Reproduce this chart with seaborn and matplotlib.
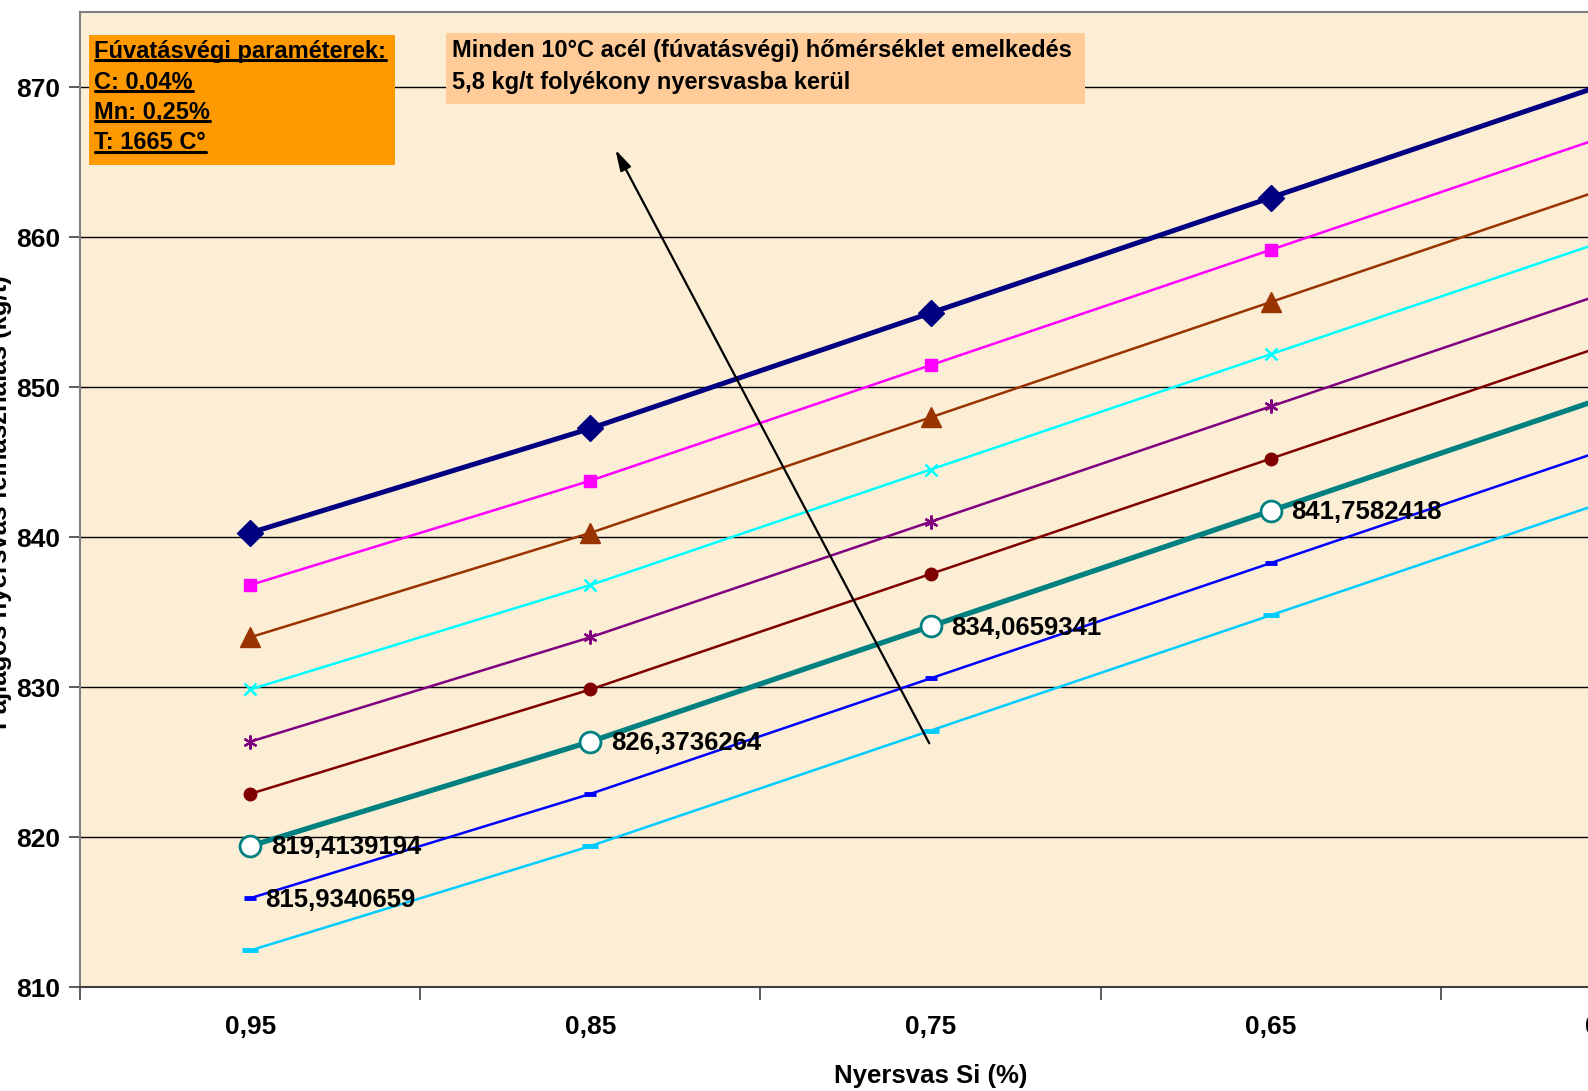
import numpy as np
import pandas as pd
import matplotlib
matplotlib.use("Agg")
import matplotlib.pyplot as plt
from matplotlib.lines import Line2D
import seaborn as sns

# Pig-iron Si categories (x axis)
si_labels = ["0,95", "0,85", "0,75", "0,65", "0,55"]

# Specific hot-metal consumption (kg/t), one line per end-of-blow temperature step
s_navy = [840.29, 847.25, 854.95, 862.64, 870.33]
s_magenta = [836.81, 843.77, 851.47, 859.16, 866.85]
s_brown = [833.33, 840.29, 847.99, 855.68, 863.37]
s_cyan = [829.85, 836.81, 844.51, 852.20, 859.89]
s_purple = [826.37, 833.33, 841.03, 848.72, 856.41]
s_darkred = [822.89, 829.85, 837.55, 845.24, 852.93]
s_teal = [819.4139194, 826.3736264, 834.0659341, 841.7582418, 849.4505495]
s_blue = [815.9340659, 822.89, 830.59, 838.28, 845.97]
s_skyblue = [812.45, 819.41, 827.11, 834.80, 842.49]

series = [
    ("navy", s_navy), ("magenta", s_magenta), ("brown", s_brown),
    ("cyan", s_cyan), ("purple", s_purple), ("darkred", s_darkred),
    ("teal", s_teal), ("blue", s_blue), ("skyblue", s_skyblue),
]

styles = {
    "navy":    dict(color="#000080", lw=3.6, marker="D", ms=13, mfc="#000080", mec="#000080", mew=1),
    "magenta": dict(color="#FF00FF", lw=1.8, marker="s", ms=8, mfc="#FF00FF", mec="#FF00FF", mew=1),
    "brown":   dict(color="#993300", lw=1.8, marker="^", ms=15, mfc="#993300", mec="#993300", mew=1),
    "cyan":    dict(color="#00FFFF", lw=1.8, marker="x", ms=9, mfc="#00FFFF", mec="#00FFFF", mew=1.8),
    "purple":  dict(color="#800080", lw=1.8, marker=(6, 2, 0), ms=10, mfc="#800080", mec="#800080", mew=1.6),
    "darkred": dict(color="#800000", lw=1.8, marker="o", ms=9, mfc="#800000", mec="#800000", mew=1),
    "teal":    dict(color="#008080", lw=3.8, marker="o", ms=15, mfc="white", mec="#008080", mew=2),
    "blue":    dict(color="#0000FF", lw=1.8, marker="_", ms=8, mfc="#0000FF", mec="#0000FF", mew=3.5),
    "skyblue": dict(color="#00CCFF", lw=1.8, marker="_", ms=12, mfc="#00CCFF", mec="#00CCFF", mew=3.5),
}

rows = []
for name, vals in series:
    for i, v in enumerate(vals):
        rows.append({"series": name, "pos": i, "value": v})
df = pd.DataFrame(rows)

sns.set_theme(style="white")
plt.rcParams["font.family"] = ["Liberation Sans", "DejaVu Sans"]
plt.rcParams["font.weight"] = "bold"
plt.rcParams["text.color"] = "black"
plt.rcParams["axes.labelcolor"] = "black"
plt.rcParams["xtick.color"] = "black"
plt.rcParams["ytick.color"] = "black"

W, H = 1588, 1091
fig = plt.figure(figsize=(W / 100, H / 100), dpi=100)
fig.patch.set_facecolor("white")
ax = fig.add_axes([0.0504, 0.0951, 1.0712, 0.8937])
ax.set_facecolor("#FBEED5")

for name, _ in series:
    st = styles[name]
    sub = df[df["series"] == name]
    sns.lineplot(data=sub, x="pos", y="value", ax=ax, color=st["color"],
                 linewidth=st["lw"], legend=False, zorder=3)
    ax.plot(sub["pos"], sub["value"], linestyle="none", marker=st["marker"],
            markersize=st["ms"], markerfacecolor=st["mfc"],
            markeredgecolor=st["mec"], markeredgewidth=st["mew"], zorder=4)

ax.set_xlim(-0.5, 4.5)
ax.set_ylim(810, 875)

# gridlines
ax.set_yticks([810, 820, 830, 840, 850, 860, 870])
ax.yaxis.grid(True, color="black", linewidth=1.0)
ax.xaxis.grid(False)
ax.set_axisbelow(True)

# category boundaries carry the tick marks, centres carry the labels
ax.set_xticks(np.arange(-0.5, 5.0, 1.0))
ax.set_xticklabels([""] * 6)
ax.set_xticks(np.arange(5), minor=True)
ax.set_xticklabels(si_labels, minor=True)
ax.tick_params(axis="x", which="major", length=9, width=1.2, color="#404040", direction="out", bottom=True)
ax.tick_params(axis="x", which="minor", length=0, pad=20, labelsize=19, labelcolor="black")
ax.tick_params(axis="y", length=8, width=1.2, color="#404040", direction="out", left=True,
               labelsize=19, pad=6, labelcolor="black")
for lab in ax.get_xticklabels(minor=True) + ax.get_yticklabels():
    lab.set_fontweight("bold")

for side in ["left", "bottom", "top", "right"]:
    ax.spines[side].set_visible(True)
    ax.spines[side].set_color("#808080")
    ax.spines[side].set_linewidth(1.5)
ax.spines["bottom"].set_color("#404040")

ax.set_xlabel("Nyersvas Si (%)", fontsize=18.5, fontweight="bold", labelpad=18, color="black")
ax.set_ylabel("")
fig.text(0.0, 0.54, "Fajlagos nyersvas felhasználás (kg/t)", rotation=90,
         ha="center", va="center", fontsize=18.5, fontweight="bold", color="black")

# value labels
def fmt(v):
    return f"{v:.7f}".replace(".", ",")

for i in range(4):
    ax.annotate(fmt(s_teal[i]), (i, s_teal[i]), xytext=(15, -1), textcoords="offset points",
                ha="left", va="center", fontsize=18.5, fontweight="bold", color="black", zorder=6)
ax.annotate(fmt(s_blue[0]), (0, s_blue[0]), xytext=(11, -1), textcoords="offset points",
            ha="left", va="center", fontsize=18.5, fontweight="bold", color="black", zorder=6)

# arrow indicating the temperature step direction
ax.annotate("", xy=(1.07, 866.0), xytext=(2.0, 826.1),
            arrowprops=dict(arrowstyle="-|>,head_length=0.9,head_width=0.25",
                            color="black", lw=1.6, mutation_scale=14), zorder=5)

# end-of-blow parameter box
fig.patches.append(plt.Rectangle((89 / W, 1 - 165 / H), (395 - 89) / W, (165 - 35) / H,
                                 transform=fig.transFigure, facecolor="#FF9900",
                                 edgecolor="none", zorder=5))
param_lines = ["Fúvatásvégi paraméterek:", "C: 0,04%", "Mn: 0,25%", "T: 1665 C°"]
param_ys = [51.6, 82.0, 112.4, 142.8]
param_texts = []
for line, yy in zip(param_lines, param_ys):
    t = fig.text(94.5 / W, 1 - yy / H, line, ha="left", va="center",
                 fontsize=17, fontweight="bold", color="black", zorder=6)
    param_texts.append(t)

# note box
fig.patches.append(plt.Rectangle((445.6 / W, 1 - 104.3 / H), (1084.7 - 445.6) / W, (104.3 - 33.4) / H,
                                 transform=fig.transFigure, facecolor="#FFCC99",
                                 edgecolor="none", zorder=5))
fig.text(452.5 / W, 1 - 50.8 / H, "Minden 10°C acél (fúvatásvégi) hőmérséklet emelkedés",
         ha="left", va="center", fontsize=17, fontweight="bold", color="black", zorder=6)
fig.text(452.5 / W, 1 - 82 / H, "5,8 kg/t folyékony nyersvasba kerül",
         ha="left", va="center", fontsize=17, fontweight="bold", color="black", zorder=6)

# underline the parameter lines
fig.canvas.draw()
renderer = fig.canvas.get_renderer()
inv = fig.transFigure.inverted()
for t in param_texts:
    bb = t.get_window_extent(renderer)
    (x0, y0), (x1, y1) = inv.transform([(bb.x0, bb.y0), (bb.x1, bb.y1)])
    yl = y0 + 0.12 * (y1 - y0)
    fig.add_artist(Line2D([x0, x1], [yl, yl], transform=fig.transFigure,
                          color="black", linewidth=2.2, zorder=7))

fig.savefig("out.png", dpi=100)
